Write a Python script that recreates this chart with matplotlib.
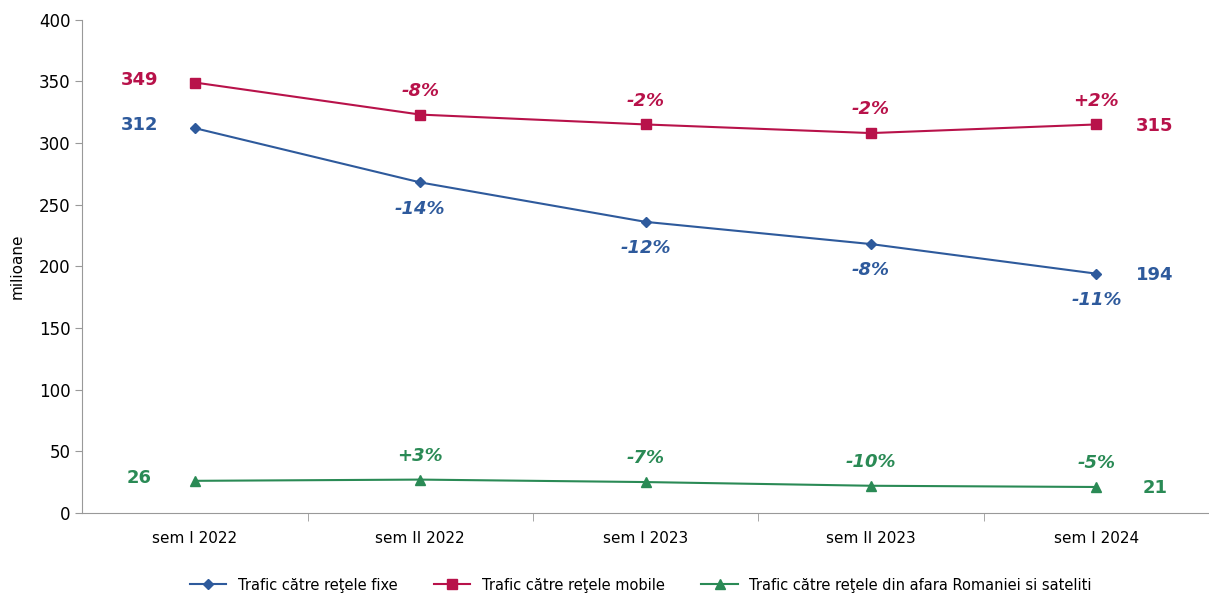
import matplotlib.pyplot as plt

categories = ["sem I 2022", "sem II 2022", "sem I 2023", "sem II 2023", "sem I 2024"]
fixe = [312, 268, 236, 218, 194]
mobile = [349, 323, 315, 308, 315]
extern = [26, 27, 25, 22, 21]
pct_fixe = ["-14%", "-12%", "-8%", "-11%"]
pct_mobile = ["-8%", "-2%", "-2%", "+2%"]
pct_extern = ["+3%", "-7%", "-10%", "-5%"]

blue = "#2E5A9C"
red = "#B8124A"
green = "#2A8A55"

fig = plt.figure(figsize=(12.09, 5.95), dpi=100)
ax = fig.add_axes([0.068, 0.138, 0.932, 0.829])

x = range(len(categories))
ax.plot(x, fixe, color=blue, marker="D", markersize=5.5, lw=1.5,
        label="Trafic către reţele fixe")
ax.plot(x, mobile, color=red, marker="s", markersize=6.5, lw=1.5,
        label="Trafic către reţele mobile")
ax.plot(x, extern, color=green, marker="^", markersize=6.5, lw=1.5,
        label="Trafic către reţele din afara Romaniei si sateliti")

# value labels at both ends
for vals, col in [(fixe, blue), (mobile, red), (extern, green)]:
    ax.annotate(str(vals[0]), (0, vals[0]), xytext=(-40, 2), textcoords="offset points",
                ha="center", va="center", color=col, fontsize=13, fontweight="bold")
    ax.annotate(str(vals[-1]), (4, vals[-1]), xytext=(42, -1), textcoords="offset points",
                ha="center", va="center", color=col, fontsize=13, fontweight="bold")

# percentage changes
for i in range(1, 5):
    ax.annotate(pct_fixe[i - 1], (i, fixe[i]), xytext=(0, -19), textcoords="offset points",
                ha="center", va="center", color=blue, fontsize=13,
                fontweight="bold", style="italic")
    ax.annotate(pct_mobile[i - 1], (i, mobile[i]), xytext=(0, 17), textcoords="offset points",
                ha="center", va="center", color=red, fontsize=13,
                fontweight="bold", style="italic")
    ax.annotate(pct_extern[i - 1], (i, extern[i]), xytext=(0, 17), textcoords="offset points",
                ha="center", va="center", color=green, fontsize=13,
                fontweight="bold", style="italic")

ax.set_xlim(-0.5, 4.5)
ax.set_ylim(0, 400)
ax.set_yticks(range(0, 401, 50))
ax.set_xticks(list(x))
ax.set_xticklabels(categories, fontsize=11)
ax.set_xticks([0.5, 1.5, 2.5, 3.5], minor=True)
ax.tick_params(axis="x", which="major", length=0, pad=13)
ax.tick_params(axis="x", which="minor", length=6, color="#999999")
ax.tick_params(axis="y", labelsize=12, length=5, color="#999999")
ax.set_ylabel("milioane", fontsize=11, labelpad=10)

for s in ["top", "right"]:
    ax.spines[s].set_visible(False)
for s in ["left", "bottom"]:
    ax.spines[s].set_color("#999999")

fig.legend(loc="lower center", bbox_to_anchor=(0.53, -0.018), ncol=3, frameon=False,
           fontsize=10.5, columnspacing=2.5, handlelength=2.5)

fig.savefig("out.png", dpi=100)
